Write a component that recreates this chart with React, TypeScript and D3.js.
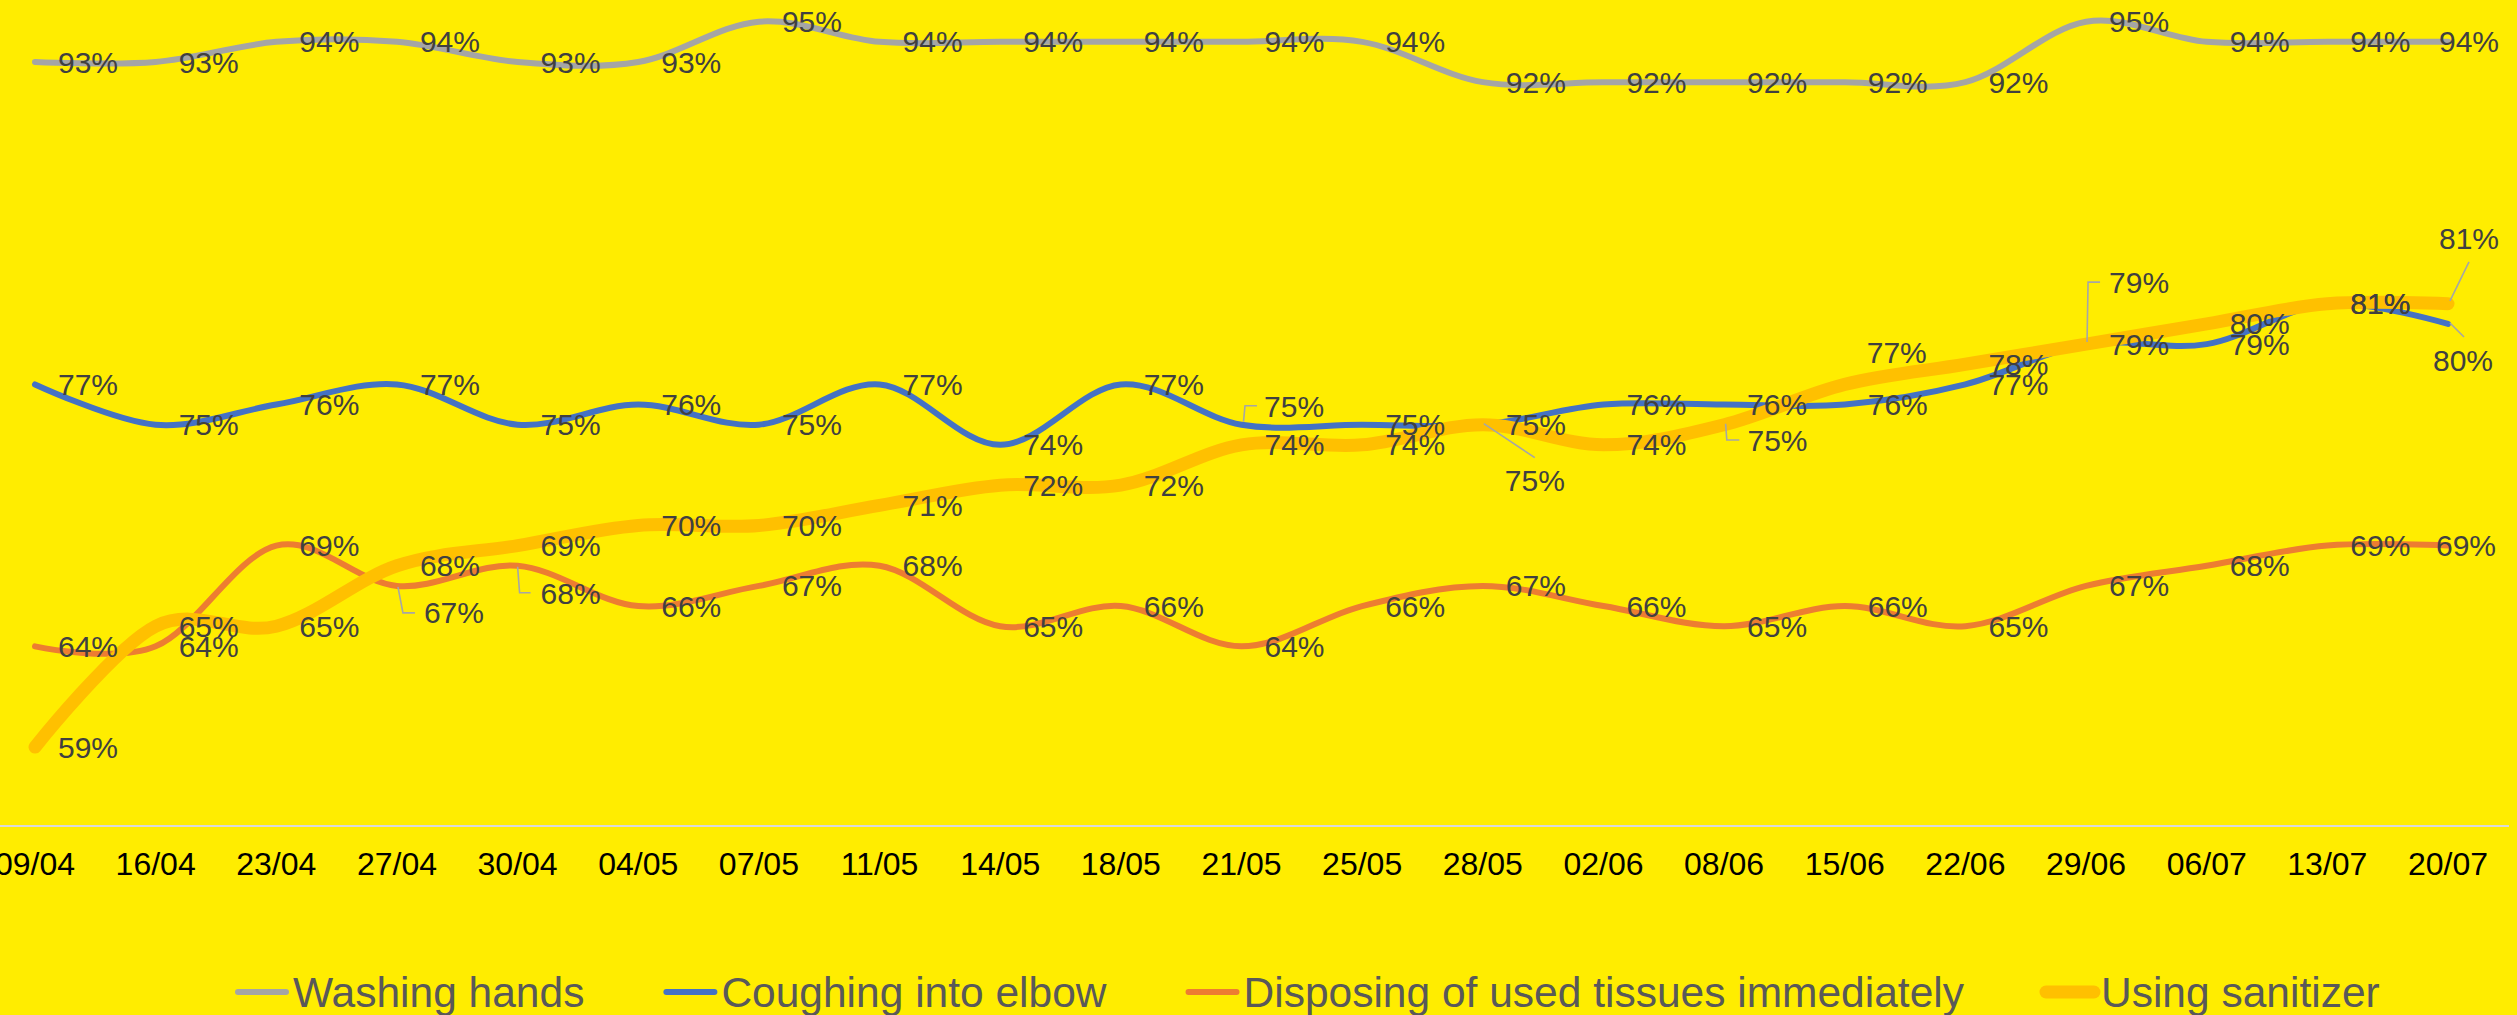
import React from "react";
import * as d3 from "d3";

const W = 2517;
const H = 1015;

// ---- data ----
const dates = ["09/04","16/04","23/04","27/04","30/04","04/05","07/05","11/05","14/05","18/05","21/05","25/05","28/05","02/06","08/06","15/06","22/06","29/06","06/07","13/07","20/07"];
const washingHands = [93,93,94,94,93,93,95,94,94,94,94,94,92,92,92,92,92,95,94,94,94];
const coughingElbow = [77,75,76,77,75,76,75,77,74,77,75,75,75,76,76,76,77,79,79,81,80];
const disposingTissues = [64,64,69,67,68,66,67,68,65,66,64,66,67,66,65,66,65,67,68,69,69];
const usingSanitizer = [59,65,65,68,69,70,70,71,72,72,74,74,75,74,75,77,78,79,80,81,81];
const seriesNames = ["Washing hands","Coughing into elbow","Disposing of used tissues immediately","Using sanitizer"];
const seriesValues = [washingHands, coughingElbow, disposingTissues, usingSanitizer];

// ---- styles ----
const seriesColors = ["#A5A5A5","#4472C4","#ED7D31","#FFC000"];
const seriesWidths = [6,6,6,13];
const BG = "#FFED00";
const FONT = "'Liberation Sans', Arial, Helvetica, sans-serif";

type Override = { s: number; i: number; dx: number; dy: number; leader?: [number, number][] };
const labelOverrides: Override[] = [
  { s: 2, i: 3, dx: 27, dy: 27, leader: [[1, 1], [6, 27], [18, 27]] },
  { s: 2, i: 4, dx: 23, dy: 28, leader: [[0, 1], [2, 27], [13, 27]] },
  { s: 1, i: 10, dx: 22.6, dy: -18, leader: [[2, -3], [3.5, -19], [15.5, -19]] },
  { s: 3, i: 12, dx: 22, dy: 56, leader: [[1, -1], [52, 33]] },
  { s: 3, i: 14, dx: 23.4, dy: 16, leader: [[1.5, -1], [2.7, 15.3], [15.2, 15.3]] },
  { s: 3, i: 15, dx: 22, dy: -32 },
  { s: 3, i: 17, dx: 23, dy: -62, leader: [[1, -2], [2, -62], [14, -62]] },
  { s: 3, i: 20, dx: -9, dy: -65, leader: [[2, -3], [21, -42]] },
  { s: 1, i: 20, dx: -15, dy: 37, leader: [[2, -1], [16, 13]] },
  { s: 0, i: 20, dx: -9, dy: 0 },
  { s: 2, i: 20, dx: -12, dy: 0 },
];

function measure(text: string, font: string): number {
  const c = document.createElement("canvas").getContext("2d");
  if (!c) return text.length * 20;
  c.font = font;
  return c.measureText(text).width;
}

export default function App() {
  const x = d3.scalePoint<string>().domain(dates).range([35, 2448]);
  const y = d3.scaleLinear().domain([55, 96]).range([827.7, 1.55]);
  const line = d3
    .line<number>()
    .x((_, i) => x(dates[i]) as number)
    .y((v) => y(v))
    .curve(d3.curveCardinal.tension(0));

  const axisY = 826;

  // legend layout
  const legendFont = `42.5px ${FONT}`;
  let lx = 235;
  const legendItems = seriesNames.map((name, k) => {
    const item = { name, k, x: lx };
    lx = lx + 58 + measure(name, legendFont) + 79;
    return item;
  });

  const labels: { s: number; i: number; tx: number; ty: number; text: string; leader?: string }[] = [];
  seriesValues.forEach((vals, s) => {
    vals.forEach((v, i) => {
      const px = x(dates[i]) as number;
      const py = y(v);
      const ov = labelOverrides.find((o) => o.s === s && o.i === i);
      const dx = ov ? ov.dx : 23;
      const dy = ov ? ov.dy : 0;
      let leader: string | undefined;
      if (ov && ov.leader) {
        leader = d3.line()(ov.leader.map(([a, b]) => [px + a, py + b] as [number, number])) || undefined;
      }
      labels.push({ s, i, tx: px + dx, ty: py + dy, text: `${v}%`, leader });
    });
  });

  return (
    <svg
      width={W}
      height={H}
      style={{ position: "absolute", left: 0, top: 0, display: "block" }}
      fontFamily={FONT}
    >
      <rect x={0} y={0} width={W} height={H} fill={BG} />
      <line x1={0} x2={2509} y1={axisY} y2={axisY} stroke="#D9D9D9" strokeWidth={2} />
      {dates.map((d) => (
        <text key={d} x={x(d)} y={875} textAnchor="middle" fontSize={32} fill="#000000">
          {d}
        </text>
      ))}
      {seriesValues.map((vals, s) => (
        <path
          key={s}
          d={line(vals) || ""}
          fill="none"
          stroke={seriesColors[s]}
          strokeWidth={seriesWidths[s]}
          strokeLinecap="round"
          strokeLinejoin="round"
        />
      ))}
      {labels
        .filter((l) => l.leader)
        .map((l) => (
          <path key={`ld-${l.s}-${l.i}`} d={l.leader} fill="none" stroke="#A6A6A6" strokeWidth={1.6} />
        ))}
      {labels.map((l) => (
        <text key={`lb-${l.s}-${l.i}`} x={l.tx} y={l.ty} dy="0.35em" fontSize={30} fill="#404040">
          {l.text}
        </text>
      ))}
      {legendItems.map((it) => (
        <g key={it.name}>
          <line
            x1={it.x + 3}
            x2={it.x + 51}
            y1={992}
            y2={992}
            stroke={seriesColors[it.k]}
            strokeWidth={seriesWidths[it.k]}
            strokeLinecap="round"
          />
          <text x={it.x + 58} y={1007} fontSize={42.5} fill="#595959">
            {it.name}
          </text>
        </g>
      ))}
    </svg>
  );
}
